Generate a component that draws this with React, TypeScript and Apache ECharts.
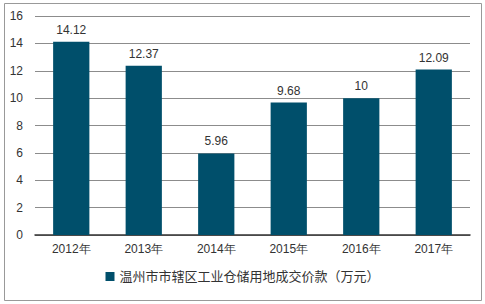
import React, { useEffect, useRef } from "react";
import * as echarts from "echarts";

const categories = ["2012年", "2013年", "2014年", "2015年", "2016年", "2017年"];
const values = [14.12, 12.37, 5.96, 9.68, 10, 12.09];
const seriesName = "温州市市辖区工业仓储用地成交价款（万元）";

export default function App() {
  const ref = useRef<HTMLDivElement>(null);
  useEffect(() => {
    const chart = echarts.init(ref.current!, undefined, { renderer: "svg" });
    chart.setOption({
      animation: false,
      backgroundColor: "#ffffff",
      textStyle: { fontFamily: "Liberation Sans, Arial, sans-serif" },
      graphic: [
        {
          type: "rect",
          shape: { x: 4.5, y: 3.5, width: 477, height: 297 },
          style: { fill: "none", stroke: "#999999", lineWidth: 1 },
          silent: true,
        },
      ],
      grid: { left: 35, right: 15, top: 16, bottom: 69 },
      legend: {
        data: [{ name: seriesName, icon: "rect" }],
        bottom: 16,
        left: "center",
        itemWidth: 9,
        itemHeight: 9,
        itemGap: 4,
        textStyle: { fontSize: 13, color: "#333333", fontFamily: "Liberation Sans, Noto Sans CJK SC, sans-serif" },
      },
      xAxis: {
        type: "category",
        data: categories,
        axisLine: { lineStyle: { color: "#333333", width: 1.5 } },
        axisTick: { show: false },
        axisLabel: { color: "#333333", fontSize: 12, margin: 8 },
      },
      yAxis: {
        type: "value",
        min: 0,
        max: 16,
        interval: 2,
        axisLine: { show: false },
        axisTick: { show: false },
        axisLabel: { color: "#333333", fontSize: 12, margin: 12 },
        splitLine: { lineStyle: { color: "#8c8c8c", width: 1 } },
      },
      series: [
        {
          name: seriesName,
          type: "bar",
          data: values,
          barWidth: "50%",
          itemStyle: { color: "#004f6b" },
          label: { show: true, position: "top", color: "#333333", fontSize: 12, distance: 6 },
        },
      ],
    });
    return () => chart.dispose();
  }, []);
  return <div ref={ref} style={{ width: 485, height: 304, position: "absolute", left: 0, top: 0 }} />;
}
